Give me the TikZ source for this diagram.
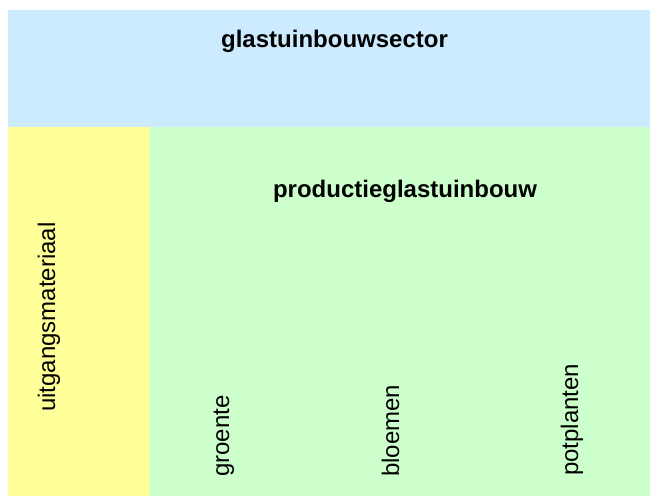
\documentclass[tikz,border=0pt]{standalone}
\usepackage{fontspec}
\setmainfont{Liberation Sans}
\definecolor{skyfill}{HTML}{CCEBFF}
\definecolor{lemonfill}{HTML}{FFFF99}
\definecolor{mintfill}{HTML}{CCFFCC}
\begin{document}
\begin{tikzpicture}[x=1bp,y=-1bp,
  title/.style={font=\fontsize{24bp}{28bp}\selectfont\bfseries, inner sep=0, anchor=base},
  vlabel/.style={font=\fontsize{24bp}{28bp}\selectfont, inner sep=0, rotate=90, anchor=base west}]
\useasboundingbox (0,0) rectangle (650,496);
\fill[skyfill] (8,10) rectangle (650,127);
\fill[lemonfill] (8,127) rectangle (150,496);
\fill[mintfill] (150,127) rectangle (650,496);
\node[title] (sector) at (334.5,47.5) {glastuinbouwsector};
\node[title] (prod) at (405,197.5) {productieglastuinbouw};
\node[vlabel] (uitg) at (55,412) {uitgangsmateriaal};
\node[vlabel] (groente) at (229,477) {groente};
\node[vlabel] (bloemen) at (399,477) {bloemen};
\node[vlabel] (potplanten) at (578,476) {potplanten};
\end{tikzpicture}
\end{document}
